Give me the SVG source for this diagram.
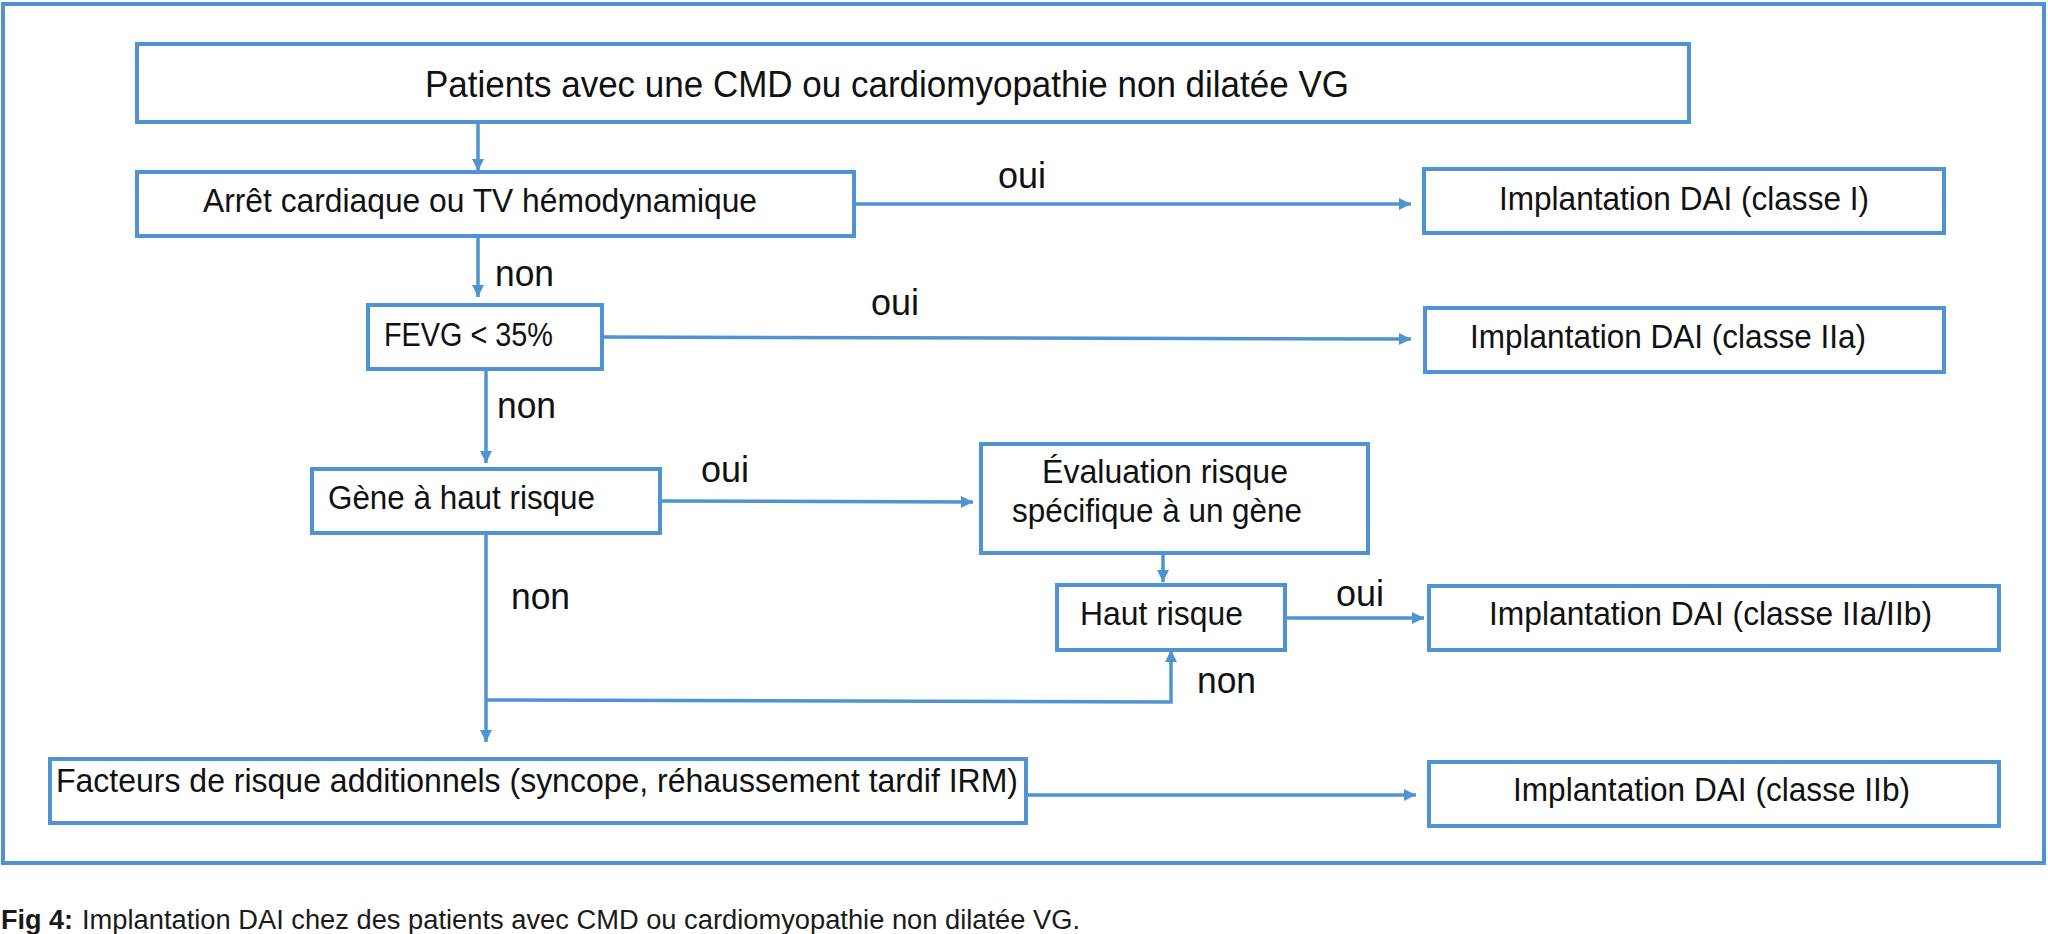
<svg xmlns="http://www.w3.org/2000/svg" width="2048" height="934" viewBox="0 0 2048 934">
<style>
.box{fill:#fff;stroke:#4f93d2;stroke-width:4}
.frame{fill:none;stroke:#4f93d2;stroke-width:4}
.t{font-family:"Liberation Sans",Arial,sans-serif;fill:#111;font-size:33px}
.lbl{font-family:"Liberation Sans",Arial,sans-serif;fill:#111;font-size:37px}
.cap{font-family:"Liberation Sans",Arial,sans-serif;fill:#1a1a1a;font-size:27px}
.c{fill:none;stroke:#4f93d2;stroke-width:3.5}
</style>
<defs>
<marker id="arr" viewBox="0 0 12 12" refX="12" refY="6" markerWidth="12" markerHeight="12" markerUnits="userSpaceOnUse" orient="auto"><path d="M0,0 L12,6 L0,12 z" fill="#4f93d2"/></marker>
</defs>
<rect width="2048" height="934" fill="#fff"/>
<rect class="frame" x="3" y="4" width="2041" height="859"/>

<g id="connectors">
<line class="c" x1="478" y1="122" x2="478" y2="171" marker-end="url(#arr)"/>
<line class="c" x1="854" y1="204" x2="1411" y2="204" marker-end="url(#arr)"/>
<line class="c" x1="478" y1="236" x2="478" y2="297" marker-end="url(#arr)"/>
<line class="c" x1="602" y1="337" x2="1411" y2="339" marker-end="url(#arr)"/>
<line class="c" x1="486" y1="369" x2="486" y2="463" marker-end="url(#arr)"/>
<line class="c" x1="660" y1="501" x2="973" y2="502" marker-end="url(#arr)"/>
<line class="c" x1="1163" y1="553" x2="1163" y2="582" marker-end="url(#arr)"/>
<line class="c" x1="1285" y1="618" x2="1424" y2="618" marker-end="url(#arr)"/>
<line class="c" x1="486" y1="533" x2="486" y2="742" marker-end="url(#arr)"/>
<polyline class="c" points="486,700 1171,702 1171,650" marker-end="url(#arr)"/>
<line class="c" x1="1026" y1="795" x2="1416" y2="795" marker-end="url(#arr)"/>
<text class="lbl" x="998" y="188" textLength="48" lengthAdjust="spacingAndGlyphs">oui</text>
<text class="lbl" x="495" y="286" textLength="59" lengthAdjust="spacingAndGlyphs">non</text>
<text class="lbl" x="871" y="315" textLength="48" lengthAdjust="spacingAndGlyphs">oui</text>
<text class="lbl" x="497" y="418" textLength="59" lengthAdjust="spacingAndGlyphs">non</text>
<text class="lbl" x="701" y="482" textLength="48" lengthAdjust="spacingAndGlyphs">oui</text>
<text class="lbl" x="511" y="609" textLength="59" lengthAdjust="spacingAndGlyphs">non</text>
<text class="lbl" x="1336" y="606" textLength="48" lengthAdjust="spacingAndGlyphs">oui</text>
<text class="lbl" x="1197" y="693" textLength="59" lengthAdjust="spacingAndGlyphs">non</text>
</g>

<g id="n-patients">
<rect class="box" x="137" y="44" width="1552" height="78"/>
<text class="t" x="425" y="97" style="font-size:36px" textLength="924" lengthAdjust="spacingAndGlyphs">Patients avec une CMD ou cardiomyopathie non dilatée VG</text>
</g>
<g id="n-arret">
<rect class="box" x="137" y="172" width="717" height="64"/>
<text class="t" x="203" y="212" textLength="554" lengthAdjust="spacingAndGlyphs">Arrêt cardiaque ou TV hémodynamique</text>
</g>
<g id="n-classe1">
<rect class="box" x="1424" y="169" width="520" height="64"/>
<text class="t" x="1499" y="210" textLength="370" lengthAdjust="spacingAndGlyphs">Implantation DAI (classe I)</text>
</g>
<g id="n-fevg">
<rect class="box" x="368" y="305" width="234" height="64"/>
<text class="t" x="384" y="346" textLength="169" lengthAdjust="spacingAndGlyphs">FEVG &lt; 35%</text>
</g>
<g id="n-classe2a">
<rect class="box" x="1425" y="308" width="519" height="64"/>
<text class="t" x="1470" y="348" textLength="396" lengthAdjust="spacingAndGlyphs">Implantation DAI (classe IIa)</text>
</g>
<g id="n-gene">
<rect class="box" x="312" y="469" width="348" height="64"/>
<text class="t" x="328" y="509" textLength="267" lengthAdjust="spacingAndGlyphs">Gène à haut risque</text>
</g>
<g id="n-evaluation">
<rect class="box" x="981" y="444" width="387" height="109"/>
<text class="t" x="1042" y="483" textLength="246" lengthAdjust="spacingAndGlyphs">Évaluation risque</text>
<text class="t" x="1012" y="522" textLength="290" lengthAdjust="spacingAndGlyphs">spécifique à un gène</text>
</g>
<g id="n-haut">
<rect class="box" x="1057" y="585" width="228" height="65"/>
<text class="t" x="1080" y="625" textLength="163" lengthAdjust="spacingAndGlyphs">Haut risque</text>
</g>
<g id="n-classe2a2b">
<rect class="box" x="1429" y="586" width="570" height="64"/>
<text class="t" x="1489" y="625" textLength="443" lengthAdjust="spacingAndGlyphs">Implantation DAI (classe IIa/IIb)</text>
</g>
<g id="n-facteurs">
<rect class="box" x="50" y="759" width="976" height="64"/>
<text class="t" x="56" y="792" textLength="962" lengthAdjust="spacingAndGlyphs">Facteurs de risque additionnels (syncope, réhaussement tardif IRM)</text>
</g>
<g id="n-classe2b">
<rect class="box" x="1429" y="762" width="570" height="64"/>
<text class="t" x="1513" y="801" textLength="397" lengthAdjust="spacingAndGlyphs">Implantation DAI (classe IIb)</text>
</g>

<text class="cap" x="1" y="929"><tspan font-weight="bold">Fig 4:</tspan><tspan x="82" textLength="998" lengthAdjust="spacingAndGlyphs">Implantation DAI chez des patients avec CMD ou cardiomyopathie non dilatée VG.</tspan></text>
</svg>
